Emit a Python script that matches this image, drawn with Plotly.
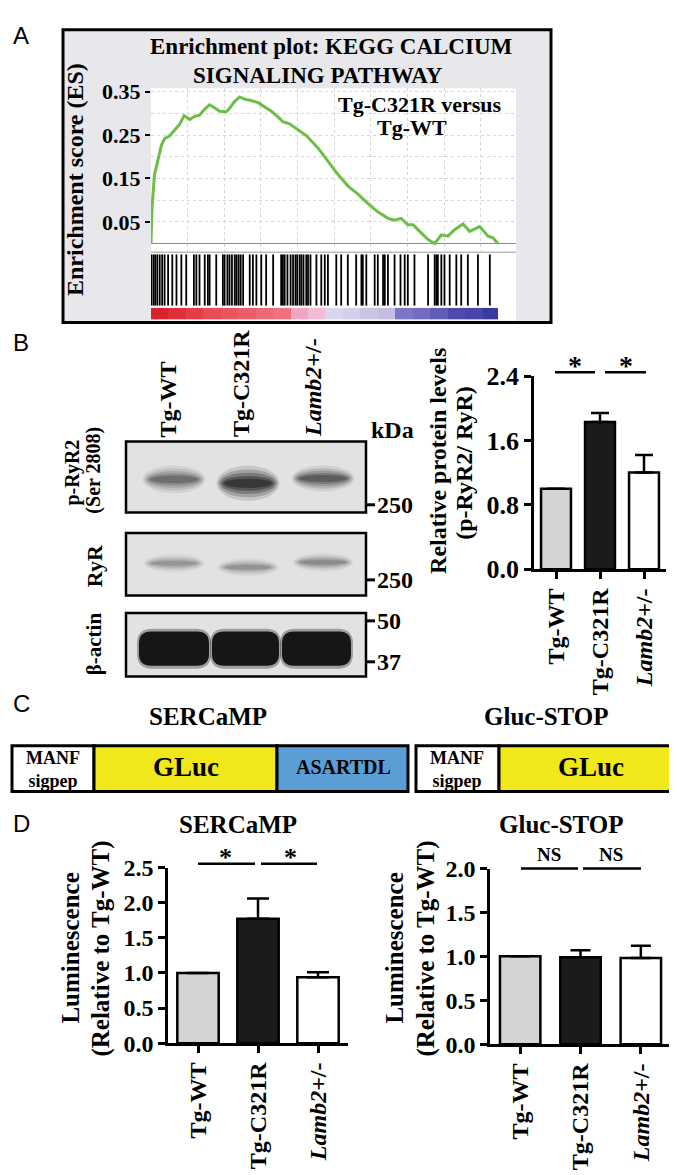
import plotly.graph_objects as go

W, H = 677, 1175
SERIF = "Liberation Serif"
SANS = "Liberation Sans"

# ---------------- Panel A: GSEA enrichment plot ----------------
es_rank = [0, 0.3, 1.0, 1.8, 3.0, 3.9, 5.3, 6.8, 8.2, 9.5, 11.1, 12.5, 13.9, 15.4, 16.8, 18.2,
           19.7, 21.6, 22.5, 24.0, 25.4, 26.8, 28.7, 30.7, 32.6, 34.5, 36.4, 37.8, 39.7, 42.1,
           44.5, 47.9, 50.7, 53.6, 56.4, 59.3, 62.2, 65.0, 67.9, 69.8, 71.7, 73.6, 75.1, 77.5,
           79.4, 81.3, 83.2, 85.1, 87.0, 89.4, 91.3, 94.2, 96.6, 98.0, 99.4]
es_score = [0.0, 0.084, 0.159, 0.189, 0.227, 0.242, 0.248, 0.262, 0.275, 0.295, 0.286, 0.293,
            0.296, 0.310, 0.320, 0.313, 0.305, 0.304, 0.312, 0.328, 0.338, 0.333, 0.330, 0.325,
            0.316, 0.305, 0.292, 0.281, 0.276, 0.262, 0.249, 0.220, 0.189, 0.159, 0.133, 0.114,
            0.092, 0.073, 0.058, 0.054, 0.058, 0.043, 0.043, 0.024, 0.009, 0.0, 0.020, 0.017,
            0.032, 0.045, 0.028, 0.039, 0.017, 0.013, 0.0]
hit_rank = [0.1, 0.7, 1.2, 1.8, 2.5, 3.2, 3.9, 4.9, 6.1, 7.3, 8.7, 10.1, 12.3, 13.0, 13.9, 15.4,
            16.3, 16.8, 18.7, 20.6, 21.1, 21.9, 22.5, 23.2, 24.0, 24.5, 25.1, 25.7, 26.4, 28.3,
            29.2, 30.2, 31.6, 33.0, 35.0, 37.3, 37.8, 38.3, 39.1, 40.0, 40.7, 41.4, 41.9, 42.6,
            43.1, 43.7, 44.5, 45.0, 45.7, 47.4, 48.8, 49.8, 50.7, 53.1, 54.5, 56.4, 58.8, 60.3,
            60.7, 61.7, 64.1, 65.0, 66.5, 67.0, 67.9, 69.8, 71.5, 72.7, 73.6, 75.5, 79.4, 81.3,
            81.8, 82.2, 83.2, 84.1, 85.6, 87.5, 88.9, 90.8, 93.7, 97.1]
metric_bin_edges = [0, 5, 10, 15, 20, 25, 30, 35, 40, 45, 50, 55, 60, 65, 70, 75, 80, 85, 90, 95, 99.4]
metric_bin_value = [1.0, 0.95, 0.9, 0.85, 0.8, 0.75, 0.7, 0.65, 0.3, 0.25, 0.0, -0.05, -0.1,
                    -0.15, -0.55, -0.6, -0.7, -0.8, -0.85, -0.95]
es_ticks = [0.05, 0.15, 0.25, 0.35]

# ---------------- Panel B: western blot + quantification ----------------
groups = ["Tg-WT", "Tg-C321R", "Lamb2+/-"]
group_text = ["Tg-WT", "Tg-C321R", "<i>Lamb2</i>+/-"]
pryr2_band_density = [0.65, 1.2, 0.8]
ryr_band_density = [0.38, 0.40, 0.45]
actin_band_density = [1.0, 1.0, 1.0]
kda_pryr2 = ["250"]
kda_ryr = ["250"]
kda_actin = ["50", "37"]
pryr2_ratio_mean = [1.0, 1.83, 1.20]
pryr2_ratio_sem = [0.0, 0.11, 0.22]

# ---------------- Panel D: luminescence ----------------
sercamp_mean = [1.0, 1.77, 0.94]
sercamp_sem = [0.0, 0.29, 0.07]
glucstop_mean = [1.0, 0.99, 0.98]
glucstop_sem = [0.0, 0.08, 0.14]

bar_colors = ["#d4d4d6", "#1b1b1b", "#ffffff"]


def fx(x):
    return x / W


def fy(y):
    return 1 - y / H


shapes = []
annotations = []


def rect(x0, y0, x1, y1, fill=None, lw=0, lc="black", layer="below"):
    shapes.append(dict(type="rect", xref="paper", yref="paper", x0=fx(x0), x1=fx(x1),
                       y0=fy(y1), y1=fy(y0), fillcolor=fill or "rgba(0,0,0,0)",
                       line=dict(width=lw, color=lc), layer=layer))


def hline(x0, x1, y, lw=2.5, color="black", layer="above"):
    shapes.append(dict(type="line", xref="paper", yref="paper", x0=fx(x0), x1=fx(x1),
                       y0=fy(y), y1=fy(y), line=dict(width=lw, color=color), layer=layer))


def ellipse(cx, cy, w, h, opacity):
    shapes.append(dict(type="circle", xref="paper", yref="paper", x0=fx(cx - w / 2),
                       x1=fx(cx + w / 2), y0=fy(cy + h / 2), y1=fy(cy - h / 2),
                       fillcolor="black", opacity=max(0.0, min(1.0, opacity)),
                       line=dict(width=0), layer="below"))


def band(cx, cy, w, h, d):
    for sw, sh, op in [(1.12, 1.9, 0.10), (1.06, 1.5, 0.15), (1.0, 1.15, 0.2),
                       (0.93, 0.8, 0.25), (0.85, 0.5, 0.3)]:
        ellipse(cx, cy, w * sw, h * sh, op * d)


def rrect(x0, y0, x1, y1, r, color, opacity=1.0):
    pts = [("M", x0 + r, y0), ("L", x1 - r, y0), ("Q", x1, y0, x1, y0 + r), ("L", x1, y1 - r),
           ("Q", x1, y1, x1 - r, y1), ("L", x0 + r, y1), ("Q", x0, y1, x0, y1 - r),
           ("L", x0, y0 + r), ("Q", x0, y0, x0 + r, y0)]
    path = ""
    for p in pts:
        coords = p[1:]
        seg = [f"{fx(coords[i]):.5f},{fy(coords[i + 1]):.5f}" for i in range(0, len(coords), 2)]
        path += p[0] + " " + " ".join(seg) + " "
    path += "Z"
    shapes.append(dict(type="path", xref="paper", yref="paper", path=path, fillcolor=color,
                       opacity=opacity, line=dict(width=0), layer="below"))


def text(x, y, s, size=22, bold=True, family=SERIF, xanchor="center", yanchor="middle",
         angle=0):
    annotations.append(dict(xref="paper", yref="paper", x=fx(x), y=fy(y), text=s,
                            showarrow=False, xanchor=xanchor, yanchor=yanchor, textangle=angle,
                            borderpad=0,
                            font=dict(family=family, size=size, color="black",
                                      weight="bold" if bold else "normal")))


fig = go.Figure()

# ======== Panel A ========
A_X0, A_X1 = 143, 508
rect(55, 8, 543, 308, fill="#e8e8ec")
rect(A_X0, 68, A_X1, 306, fill="white")
rect(55, 8, 543, 308, lw=3, layer="above")
hline(A_X0, A_X1, 236, lw=1, color="#9a9a9a", layer="below")

fig.add_trace(go.Scatter(x=es_rank, y=es_score, mode="lines",
                         line=dict(color="#6cbf46", width=3), xaxis="x", yaxis="y",
                         hoverinfo="skip"))
hx, hy = [], []
for r in hit_rank:
    hx += [r, r, None]
    hy += [0, 1, None]
fig.add_trace(go.Scatter(x=hx, y=hy, mode="lines", line=dict(color="black", width=1.8),
                         xaxis="x2", yaxis="y2", hoverinfo="skip"))
cscale = [[0.0, "#33339c"], [0.1, "#4f4aae"], [0.225, "#7b76c6"], [0.425, "#c4bde0"],
          [0.5, "#dad6ee"], [0.625, "#f2bcd8"], [0.65, "#f0a6c0"], [0.825, "#f0707e"],
          [0.925, "#e84c56"], [1.0, "#d8222c"]]
fig.add_trace(go.Heatmap(x=metric_bin_edges, y=[0], z=[metric_bin_value], zmin=-1, zmax=1,
                         colorscale=cscale, showscale=False, xaxis="x3", yaxis="y3",
                         hoverinfo="skip"))

text(323, 25, "Enrichment plot: KEGG CALCIUM", size=23)
text(310, 55, "SIGNALING PATHWAY", size=23)
text(412, 85, "Tg-C321R versus", size=22)
text(404, 108, "Tg-WT", size=22)
text(67, 162, "Enrichment score (ES)", size=24, angle=-90)
text(4, 14, "A", size=24, bold=False, family=SANS, xanchor="left")

# ======== Panel B ========
text(4, 329, "B", size=24, bold=False, family=SANS, xanchor="left")
lane_x = [166, 240, 315]
BX0, BX1 = 118, 358
blots = [(430, 503), (524, 588), (606, 671)]
for (y0, y1) in blots:
    rect(BX0, y0, BX1, y1, fill="#e2e2e2")
for cx, d, cy, h in zip(lane_x, pryr2_band_density, [469, 473, 468], [15, 19, 14]):
    band(cx, cy, 56, h, d)
for cx, d, cy in zip(lane_x, ryr_band_density, [555, 559, 554]):
    band(cx, cy, 54, 10, d)
for (x0, x1), d in zip([(131, 201), (204, 271), (274, 343)], actin_band_density):
    rrect(x0 - 2, 622, x1 + 2, 663, 15, "black", 0.3 * d)
    rrect(x0, 625, x1, 660, 12, "#161616", d)
for (y0, y1) in blots:
    rect(BX0, y0, BX1, y1, lw=2.5, layer="above")

for gx, gt in zip([160, 233, 305], group_text):
    text(gx, 427, gt, size=24, angle=-90, yanchor="bottom")
text(362, 418, "kDa", size=24, xanchor="left")
for y, lab in zip([495], kda_pryr2):
    hline(358, 367, y, lw=3)
    text(368, y, lab, size=24, xanchor="left")
for y, lab in zip([572], kda_ryr):
    hline(358, 367, y, lw=3)
    text(368, y, lab, size=24, xanchor="left")
for y, lab in zip([614, 656], kda_actin):
    hline(358, 367, y, lw=3)
    text(368, y, lab, size=24, xanchor="left")
text(65, 462, "p-RyR2", size=20, angle=-90)
text(86, 460, "(Ser 2808)", size=20, angle=-90)
text(86, 558, "RyR", size=22, angle=-90)
text(86, 638, "β-actin", size=21, angle=-90)

fig.add_trace(go.Bar(x=groups, y=pryr2_ratio_mean, width=0.68,
                     marker=dict(color=bar_colors, line=dict(color="black", width=2.5)),
                     error_y=dict(type="data", symmetric=False,
                                  array=[e if e > 0 else None for e in pryr2_ratio_sem],
                                  arrayminus=[0, 0, 0], color="black", thickness=2.5, width=9),
                     xaxis="x4", yaxis="y4", hoverinfo="skip"))
text(430, 450, "Relative protein levels", size=24, angle=-90)
text(456, 452, "(p-RyR2/ RyR)", size=24, angle=-90)
hline(547, 587, 359)
hline(597, 638, 359)
text(567, 352, "*", size=28)
text(618, 352, "*", size=28)

# ======== Panel C ========
text(4, 699, "C", size=24, bold=False, family=SANS, xanchor="left")
text(200, 712, "SERCaMP", size=25)
text(538, 712, "Gluc-STOP", size=25)
CY0, CY1 = 742, 789
rect(4, CY0, 86, CY1, fill="white", lw=3)
rect(86, CY0, 269, CY1, fill="#f1e81c", lw=3)
rect(269, CY0, 400, CY1, fill="#5b9ed6", lw=3)
rect(408, CY0, 491, CY1, fill="white", lw=3)
rect(491, CY0, 675, CY1, fill="#f1e81c", lw=3)
for cx in [45, 449]:
    text(cx, 766, "MANF<br>sigpep", size=18)
text(178, 764, "GLuc", size=27)
text(583, 764, "GLuc", size=27)
text(335, 764, "ASARTDL", size=20)

# ======== Panel D ========
text(4, 822, "D", size=24, bold=False, family=SANS, xanchor="left")
text(230, 823, "SERCaMP", size=25)
text(553, 823, "Gluc-STOP", size=25)
fig.add_trace(go.Bar(x=groups, y=sercamp_mean, width=0.69,
                     marker=dict(color=bar_colors, line=dict(color="black", width=2.5)),
                     error_y=dict(type="data", symmetric=False,
                                  array=[e if e > 0 else None for e in sercamp_sem],
                                  arrayminus=[0, 0, 0], color="black", thickness=2.5, width=11),
                     xaxis="x5", yaxis="y5", hoverinfo="skip"))
fig.add_trace(go.Bar(x=groups, y=glucstop_mean, width=0.67,
                     marker=dict(color=bar_colors, line=dict(color="black", width=2.5)),
                     error_y=dict(type="data", symmetric=False,
                                  array=[e if e > 0 else None for e in glucstop_sem],
                                  arrayminus=[0, 0, 0], color="black", thickness=2.5, width=10),
                     xaxis="x6", yaxis="y6", hoverinfo="skip"))
for cx in [63, 387]:
    text(cx, 950, "Luminescence", size=25, angle=-90)
for cx in [93, 418]:
    text(cx, 950, "(Relative to Tg-WT)", size=25, angle=-90)
hline(190, 247, 863)
hline(253, 309, 863)
text(217, 857, "*", size=26)
text(282, 857, "*", size=26)
hline(513, 570, 868)
hline(575, 633, 868)
text(541, 854, "NS", size=19)
text(603, 854, "NS", size=19)


# ======== axes ========
def bar_axes(xd, yd, yrange, dtick, tsize):
    tf = dict(family=SERIF, size=tsize, color="black", weight="bold")
    xf = dict(family=SERIF, size=24, color="black", weight="bold")
    xa = dict(domain=[fx(xd[0]), fx(xd[1])], range=[-0.5, 2.5], type="category",
              categoryorder="array", categoryarray=groups, tickvals=groups, ticktext=group_text,
              tickangle=-90, tickfont=xf, showline=True, linecolor="black", linewidth=2.5,
              ticks="outside", ticklen=7, tickwidth=2.5, tickcolor="black", showgrid=False,
              zeroline=False, fixedrange=True)
    ya = dict(domain=[fy(yd[1]), fy(yd[0])], range=yrange, dtick=dtick, tick0=0,
              tickformat=".1f", tickfont=tf, showline=True, linecolor="black",
              linewidth=2.5, ticks="outside", ticklen=7, tickwidth=2.5, tickcolor="black",
              showgrid=False, zeroline=False, fixedrange=True)
    return xa, ya


xa4, ya4 = bar_axes((526, 658), (363, 561), [0, 2.4], 0.8, 26)
xa5, ya5 = bar_axes((160, 340), (867, 1047), [0, 2.5], 0.5, 24)
xa6, ya6 = bar_axes((482, 663), (868, 1048), [0, 2.0], 0.5, 24)
xa4.update(anchor="y4")
ya4.update(anchor="x4")
xa5.update(anchor="y5")
ya5.update(anchor="x5")
xa6.update(anchor="y6")
ya6.update(anchor="x6")

XR = [0, 104.6]
es_tickfont = dict(family=SERIF, size=22, color="black", weight="bold")
fig.update_layout(
    width=W, height=H, margin=dict(l=0, r=0, t=0, b=0),
    paper_bgcolor="white", plot_bgcolor="rgba(0,0,0,0)", showlegend=False,
    xaxis=dict(domain=[fx(A_X0), fx(A_X1)], range=XR, anchor="y", showticklabels=False,
               ticks="", showgrid=True, gridcolor="#d6d6d6", griddash="dot", gridwidth=1,
               tick0=0, dtick=10.5, zeroline=False, showline=False, fixedrange=True),
    yaxis=dict(domain=[fy(236), fy(68)], range=[-0.02, 0.358], anchor="x", tickmode="array",
               tickvals=es_ticks, ticktext=[f"{v:.2f}" for v in es_ticks], tickfont=es_tickfont,
               ticks="outside", ticklen=5, tickwidth=1.5, tickcolor="black", showgrid=True,
               gridcolor="#d6d6d6", griddash="dot",
               minor=dict(tick0=0, dtick=0.05, showgrid=True, gridcolor="#d6d6d6",
                          griddash="dot", ticks=""),
               zeroline=True, zerolinecolor="#8c8c8c", zerolinewidth=1.2, showline=False,
               fixedrange=True),
    xaxis2=dict(domain=[fx(A_X0), fx(A_X1)], range=XR, anchor="y2", visible=False,
                fixedrange=True),
    yaxis2=dict(domain=[fy(291), fy(238)], range=[0, 1], anchor="x2", visible=False,
                fixedrange=True),
    xaxis3=dict(domain=[fx(A_X0), fx(A_X1)], range=XR, anchor="y3", visible=False,
                fixedrange=True),
    yaxis3=dict(domain=[fy(305), fy(293)], range=[-0.5, 0.5], anchor="x3", visible=False,
                fixedrange=True),
    xaxis4=xa4, yaxis4=ya4, xaxis5=xa5, yaxis5=ya5, xaxis6=xa6, yaxis6=ya6,
    shapes=shapes, annotations=annotations,
)

fig.write_html("out.html")
